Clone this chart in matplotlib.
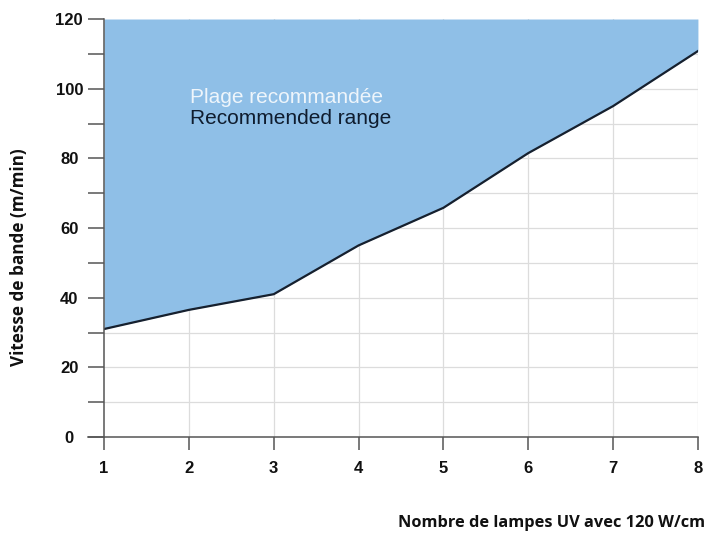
import matplotlib.pyplot as plt
import numpy as np

# Daten
lamps = [1, 2, 3, 4, 5, 6, 7, 8]
speed = [31, 36.5, 41, 55, 65.8, 81.5, 95, 110.8]
y_major = [0, 20, 40, 60, 80, 100, 120]
y_minor = [10, 30, 50, 70, 90, 110]

fig = plt.figure(figsize=(7.1, 5.34), dpi=100)
ax = fig.add_axes([0.1465, 0.1816, 0.8365, 0.7828])

# Gitter
for yv in range(10, 120, 10):
    ax.axhline(yv, color="#dcdcdc", lw=0.9, zorder=0)
for xv in lamps[1:]:
    ax.axvline(xv, color="#dcdcdc", lw=0.9, zorder=0)

# Empfohlener Bereich
ax.fill_between(lamps, speed, 120, color="#8fbfe7", lw=0, zorder=1)
ax.plot(lamps, speed, color="#16202e", lw=1.6, zorder=2)

ax.text(2.01, 95.9, "Plage recommandée", color="#eef5fb", fontsize=15,
        family="Liberation Sans", va="baseline")
ax.text(2.01, 89.9, "Recommended range", color="#0f1c2e", fontsize=15,
        family="Liberation Sans", va="baseline")

ax.set_xlim(1, 8)
ax.set_ylim(0, 120)
for s in ["top", "right"]:
    ax.spines[s].set_visible(False)
for s in ["left", "bottom"]:
    ax.spines[s].set_color("#555555")
    ax.spines[s].set_linewidth(1.1)
ax.spines["bottom"].set_bounds(0.81, 8)

ax.set_yticks(y_major)
ax.set_yticks(y_minor, minor=True)
ax.set_xticks(lamps)
ax.tick_params(axis="y", which="both", direction="out", length=11.5,
               width=1.1, color="#555555", pad=13.5)
ax.tick_params(axis="x", which="both", direction="out", length=9.5,
               width=1.1, color="#555555", pad=8)
for lab in ax.get_xticklabels() + ax.get_yticklabels():
    lab.set_family("Liberation Sans")
    lab.set_fontweight("bold")
    lab.set_fontsize(12)
    lab.set_color("#111111")
for lab in ax.get_yticklabels():
    lab.set_horizontalalignment("center")

fig.text(0.993, 0.0206, "Nombre de lampes UV avec 120 W/cm", ha="right",
         va="center", fontsize=11.8, fontweight="bold", family="Open Sans",
         color="#111111")
fig.text(0.027, 0.519, "Vitesse de bande (m/min)", rotation=90, ha="center",
         va="center", fontsize=12.3, fontweight="bold", family="Open Sans",
         color="#111111")

fig.savefig("out.png", dpi=100)
